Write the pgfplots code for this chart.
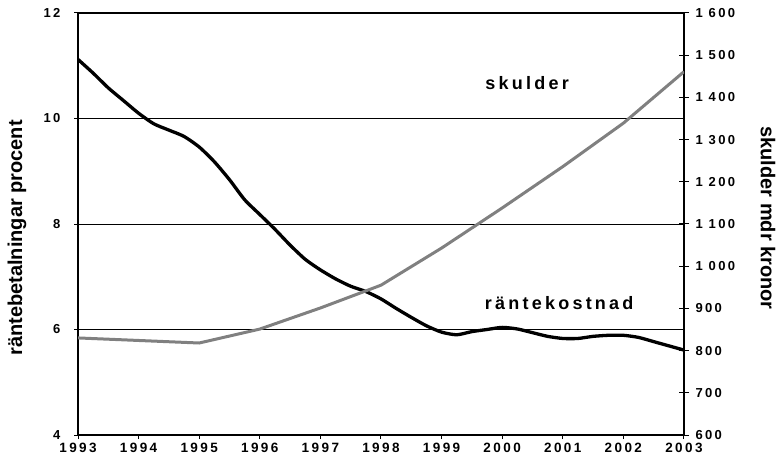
\documentclass[border=0pt]{standalone}
\usepackage{pgfplots}
\pgfplotsset{compat=1.18}
\usepackage{fontspec}
\setmainfont{Liberation Sans}
\newfontfamily\spaced[LetterSpace=18]{Liberation Sans}
\definecolor{debtgray}{RGB}{128,128,128}

% quarterly interest cost, percent
\pgfplotstableread{
year rate
1993.00 11.12
1993.25 10.86
1993.50 10.58
1993.75 10.34
1994.00 10.10
1994.25 9.90
1994.50 9.78
1994.75 9.66
1995.00 9.46
1995.25 9.18
1995.50 8.84
1995.75 8.46
1996.00 8.18
1996.25 7.90
1996.50 7.60
1996.75 7.33
1997.00 7.13
1997.25 6.96
1997.50 6.82
1997.75 6.72
1998.00 6.58
1998.25 6.40
1998.50 6.23
1998.75 6.07
1999.00 5.95
1999.25 5.90
1999.50 5.96
1999.75 6.00
2000.00 6.04
2000.25 6.01
2000.50 5.94
2000.75 5.87
2001.00 5.83
2001.25 5.83
2001.50 5.87
2001.75 5.89
2002.00 5.89
2002.25 5.85
2002.50 5.77
2002.75 5.69
2003.00 5.61
}\rates

% debt, billion SEK
\pgfplotstableread{
year debt
1993 830
1994 824
1995 818
1996 851
1997 901
1998 955
1999 1043
2000 1138
2001 1236
2002 1339
2003 1461
}\debts

\begin{document}
\begin{tikzpicture}
\pgfplotsset{
  every axis/.append style={
    scale only axis, width=606pt, height=422pt,
    xmin=1993, xmax=2003,
    at={(78pt,29pt)}, anchor=south west,
    /pgf/number format/assume math mode=true,
    axis line style={line width=1.2pt},
    tick style={black, line width=1pt},
  },
}
\begin{axis}[
  ymin=4, ymax=12,
  xtick={1993,1994,...,2003},
  xticklabels={1993,1994,1995,1996,1997,1998,1999,2000,2001,2002,2003},
  ytick={4,6,8,10,12},
  yticklabels={4,6,8,10,12},
  xtick pos=bottom, ytick pos=left,
  tick align=outside,
  major tick length=4pt,
  ymajorgrids=true,
  grid style={black, line width=0.7pt},
  xticklabel style={font=\spaced\bfseries\fontsize{13.5}{15}\selectfont, yshift=-1pt},
  yticklabel style={font=\spaced\bfseries\fontsize{13}{15}\selectfont, xshift=-10pt},
  ylabel={räntebetalningar procent},
  ylabel style={font=\bfseries\fontsize{20}{22}\selectfont, at={(rel axis cs:0,0.467)}, yshift=61pt, anchor=center},
]
\addplot[black, line width=3.3pt, smooth, tension=0.4] table[x=year, y=rate] {\rates};
\node[font=\spaced\bfseries\fontsize{18}{20}\selectfont] at (axis cs:2000.41,10.67) {skulder};
\node[font=\spaced\bfseries\fontsize{18}{20}\selectfont] at (axis cs:2000.94,6.50) {räntekostnad};
\end{axis}
\begin{axis}[
  ymin=600, ymax=1600,
  axis x line=none,
  axis y line*=right,
  ytick={600,700,...,1600},
  yticklabels={600,700,800,900,1 000,1 100,1 200,1 300,1 400,1 500,1 600},
  ytick align=center,
  major tick length=10pt,
  yticklabel style={font=\spaced\bfseries\fontsize{13}{15}\selectfont, xshift=3pt},
  ylabel={skulder mdr kronor},
  ylabel style={font=\bfseries\fontsize{20}{22}\selectfont, at={(rel axis cs:1,0.514)}, yshift=-84pt, anchor=center, rotate=180},
]
\addplot[debtgray, line width=3pt] table[x=year, y=debt] {\debts};
\end{axis}
\pgfresetboundingbox
\path (0,0) rectangle (777pt,464pt);
\end{tikzpicture}
\end{document}
